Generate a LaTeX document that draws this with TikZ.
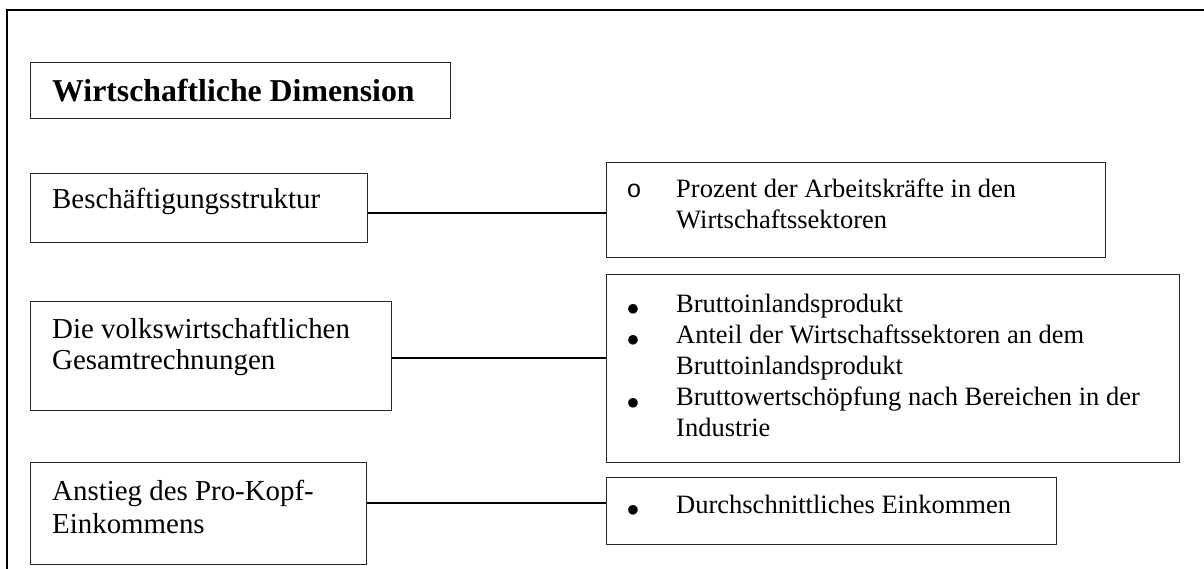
\documentclass[tikz,border=0pt]{standalone}
\usepackage{fontspec}
\setmainfont{Liberation Serif}
\newfontfamily\monofont{Liberation Mono}
\begin{document}
\begin{tikzpicture}[x=1pt,y=-1pt,
  box/.style={draw=black!85, line width=1.1pt, inner sep=0pt, anchor=north west},
  txt/.style={anchor=base west, inner sep=0pt, font=\fontsize{26.5}{31.5}\selectfont},
  ltxt/.style={anchor=base west, inner sep=0pt, font=\fontsize{28.9}{33}\selectfont},
  ttl/.style={anchor=base west, inner sep=0pt, font=\fontsize{31.8}{38}\selectfont\bfseries},
  blt/.style={anchor=base, inner sep=0pt, yshift=-3.5pt, font=\fontsize{42}{48}\selectfont},
  conn/.style={line width=2.2pt},
  frame/.style={line width=2.5pt}]
\useasboundingbox (0,0) rectangle (1204,569);
% outer frame
\draw[frame] (7,569) -- (7,10) -- (1204,10);
% boxes
\node[box, minimum width=420pt, minimum height=56pt] (title) at (30,62) {};
\node[box, minimum width=337pt, minimum height=69pt] (b1) at (30,173) {};
\node[box, minimum width=361pt, minimum height=109pt] (b2) at (30,301) {};
\node[box, minimum width=336pt, minimum height=102pt] (b3) at (30,462) {};
\node[box, minimum width=499pt, minimum height=95pt] (r1) at (606,162) {};
\node[box, minimum width=573pt, minimum height=188pt] (r2) at (606,274) {};
\node[box, minimum width=450pt, minimum height=67pt] (r3) at (606,477) {};
% texts
\node[ttl] (tt) at (52,102) {Wirtschaftliche Dimension};
\node[ltxt] (t1) at (52,209) {Beschäftigungsstruktur};
\node[ltxt] (t2a) at (52,338) {Die volkswirtschaftlichen};
\node[ltxt] (t2b) at (52,369) {Gesamtrechnungen};
\node[ltxt] (t3a) at (52,500) {Anstieg des Pro-Kopf-};
\node[ltxt] (t3b) at (52,533) {Einkommens};
% right box 1
\node[anchor=base, inner sep=0pt, font=\fontsize{25}{31.5}\monofont] (o1) at (634,198) {o};
\node[txt] (s1a) at (676,198) {Prozent der Arbeitskräfte in den};
\node[txt] (s1b) at (676,229) {Wirtschaftssektoren};
% right box 2
\node[blt] (p1) at (633,312) {$\bullet$};
\node[txt] (s2a) at (676,312) {Bruttoinlandsprodukt};
\node[blt] (p2) at (633,343.2) {$\bullet$};
\node[txt] (s2b) at (676,343.2) {Anteil der Wirtschaftssektoren an dem};
\node[txt] (s2c) at (676,374.4) {Bruttoinlandsprodukt};
\node[blt] (p3) at (633,405.6) {$\bullet$};
\node[txt] (s2d) at (676,405.6) {Bruttowertschöpfung nach Bereichen in der};
\node[txt] (s2e) at (676,436.8) {Industrie};
% right box 3
\node[blt] (p4) at (633,513) {$\bullet$};
\node[txt] (s3a) at (676,513) {Durchschnittliches Einkommen};
% connectors
\draw[conn] (b1.east |- 0,213) -- (r1.west |- 0,213);
\draw[conn, line width=2.7pt] (b2.east |- 0,358) -- (r2.west |- 0,358);
\draw[conn] (b3.east |- 0,503) -- (r3.west |- 0,503);
\end{tikzpicture}
\end{document}
